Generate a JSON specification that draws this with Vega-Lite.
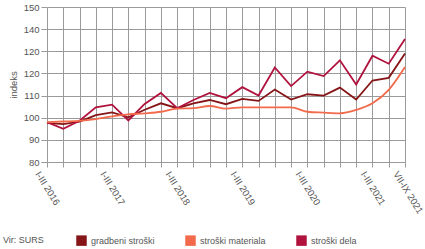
{
  "$schema": "https://vega.github.io/schema/vega-lite/v6.json",
  "width": 358,
  "height": 155,
  "autosize": {"type": "none"},
  "padding": {"left": 47, "top": 7, "right": 20, "bottom": 87},
  "background": "white",
  "config": {
    "view": {"stroke": null},
    "font": "Liberation Sans",
    "axis": {
      "gridColor": "#9a9a9a",
      "gridWidth": 1,
      "gridOpacity": 1,
      "tickColor": "#9a9a9a",
      "domain": false,
      "labelColor": "#555555",
      "labelFont": "Liberation Sans",
      "labelFontSize": 9.5,
      "titleColor": "#555555",
      "titleFont": "Liberation Sans",
      "titleFontWeight": "normal",
      "titleFontSize": 9.5
    },
    "legend": {
      "labelColor": "#555555",
      "labelFont": "Liberation Sans",
      "labelFontSize": 9,
      "titleColor": "#555555",
      "titleFont": "Liberation Sans",
      "titleFontWeight": "normal",
      "titleFontSize": 9
    }
  },
  "data": {
    "values": [
      {"q": "I-III 2016", "s": "gradbeni stroški", "v": 97.7},
      {"q": "IV-VI 2016", "s": "gradbeni stroški", "v": 97.1},
      {"q": "VII-IX 2016", "s": "gradbeni stroški", "v": 98.2},
      {"q": "X-XII 2016", "s": "gradbeni stroški", "v": 101.2},
      {"q": "I-III 2017", "s": "gradbeni stroški", "v": 102.4},
      {"q": "IV-VI 2017", "s": "gradbeni stroški", "v": 100.2},
      {"q": "VII-IX 2017", "s": "gradbeni stroški", "v": 103.6},
      {"q": "X-XII 2017", "s": "gradbeni stroški", "v": 106.5},
      {"q": "I-III 2018", "s": "gradbeni stroški", "v": 104.3},
      {"q": "IV-VI 2018", "s": "gradbeni stroški", "v": 106.5},
      {"q": "VII-IX 2018", "s": "gradbeni stroški", "v": 108},
      {"q": "X-XII 2018", "s": "gradbeni stroški", "v": 106.1},
      {"q": "I-III 2019", "s": "gradbeni stroški", "v": 108.5},
      {"q": "IV-VI 2019", "s": "gradbeni stroški", "v": 107.6},
      {"q": "VII-IX 2019", "s": "gradbeni stroški", "v": 112.7},
      {"q": "X-XII 2019", "s": "gradbeni stroški", "v": 108.2},
      {"q": "I-III 2020", "s": "gradbeni stroški", "v": 110.6},
      {"q": "IV-VI 2020", "s": "gradbeni stroški", "v": 110},
      {"q": "VII-IX 2020", "s": "gradbeni stroški", "v": 113.6},
      {"q": "X-XII 2020", "s": "gradbeni stroški", "v": 108.2},
      {"q": "I-III 2021", "s": "gradbeni stroški", "v": 116.8},
      {"q": "IV-VI 2021", "s": "gradbeni stroški", "v": 118},
      {"q": "VII-IX 2021", "s": "gradbeni stroški", "v": 129},
      {"q": "I-III 2016", "s": "stroški materiala", "v": 98},
      {"q": "IV-VI 2016", "s": "stroški materiala", "v": 98.3},
      {"q": "VII-IX 2016", "s": "stroški materiala", "v": 98.6},
      {"q": "X-XII 2016", "s": "stroški materiala", "v": 99.4},
      {"q": "I-III 2017", "s": "stroški materiala", "v": 100.6},
      {"q": "IV-VI 2017", "s": "stroški materiala", "v": 101.5},
      {"q": "VII-IX 2017", "s": "stroški materiala", "v": 102},
      {"q": "X-XII 2017", "s": "stroški materiala", "v": 102.7},
      {"q": "I-III 2018", "s": "stroški materiala", "v": 104.1},
      {"q": "IV-VI 2018", "s": "stroški materiala", "v": 104.3},
      {"q": "VII-IX 2018", "s": "stroški materiala", "v": 105.3},
      {"q": "X-XII 2018", "s": "stroški materiala", "v": 104.1},
      {"q": "I-III 2019", "s": "stroški materiala", "v": 104.7},
      {"q": "IV-VI 2019", "s": "stroški materiala", "v": 104.7},
      {"q": "VII-IX 2019", "s": "stroški materiala", "v": 104.7},
      {"q": "X-XII 2019", "s": "stroški materiala", "v": 104.7},
      {"q": "I-III 2020", "s": "stroški materiala", "v": 102.7},
      {"q": "IV-VI 2020", "s": "stroški materiala", "v": 102.3},
      {"q": "VII-IX 2020", "s": "stroški materiala", "v": 102},
      {"q": "X-XII 2020", "s": "stroški materiala", "v": 103.5},
      {"q": "I-III 2021", "s": "stroški materiala", "v": 106.5},
      {"q": "IV-VI 2021", "s": "stroški materiala", "v": 112.6},
      {"q": "VII-IX 2021", "s": "stroški materiala", "v": 122.9},
      {"q": "I-III 2016", "s": "stroški dela", "v": 98},
      {"q": "IV-VI 2016", "s": "stroški dela", "v": 95},
      {"q": "VII-IX 2016", "s": "stroški dela", "v": 98.6},
      {"q": "X-XII 2016", "s": "stroški dela", "v": 104.7},
      {"q": "I-III 2017", "s": "stroški dela", "v": 105.9},
      {"q": "IV-VI 2017", "s": "stroški dela", "v": 98.8},
      {"q": "VII-IX 2017", "s": "stroški dela", "v": 106.2},
      {"q": "X-XII 2017", "s": "stroški dela", "v": 111.2},
      {"q": "I-III 2018", "s": "stroški dela", "v": 104.3},
      {"q": "IV-VI 2018", "s": "stroški dela", "v": 108},
      {"q": "VII-IX 2018", "s": "stroški dela", "v": 111.2},
      {"q": "X-XII 2018", "s": "stroški dela", "v": 108.8},
      {"q": "I-III 2019", "s": "stroški dela", "v": 113.8},
      {"q": "IV-VI 2019", "s": "stroški dela", "v": 110},
      {"q": "VII-IX 2019", "s": "stroški dela", "v": 122.7},
      {"q": "X-XII 2019", "s": "stroški dela", "v": 114.3},
      {"q": "I-III 2020", "s": "stroški dela", "v": 120.8},
      {"q": "IV-VI 2020", "s": "stroški dela", "v": 118.8},
      {"q": "VII-IX 2020", "s": "stroški dela", "v": 125.9},
      {"q": "X-XII 2020", "s": "stroški dela", "v": 115},
      {"q": "I-III 2021", "s": "stroški dela", "v": 128},
      {"q": "IV-VI 2021", "s": "stroški dela", "v": 124.4},
      {"q": "VII-IX 2021", "s": "stroški dela", "v": 135.5}
    ]
  },
  "encoding": {
    "x": {
      "field": "q",
      "type": "ordinal",
      "sort": null,
      "scale": {"type": "point", "padding": 0},
      "axis": {
        "title": null,
        "grid": true,
        "tickSize": 5,
        "labelAngle": 58,
        "labelPadding": 5,
        "labelOffset": -10,
        "labelOverlap": false,
        "labelExpr": "substring(datum.label, 0, 6) == 'I-III ' || datum.label == 'VII-IX 2021' ? datum.label : ''"
      }
    },
    "y": {
      "field": "v",
      "type": "quantitative",
      "scale": {"domain": [80, 150], "nice": false, "zero": false},
      "axis": {
        "title": "indeks",
        "values": [80, 90, 100, 110, 120, 130, 140, 150],
        "labelExpr": "datum.value == 130 ? '120' : datum.label",
        "tickSize": 6,
        "labelPadding": 2,
        "titlePadding": 5,
        "grid": true
      }
    },
    "color": {
      "field": "s",
      "type": "nominal",
      "scale": {
        "domain": ["gradbeni stroški", "stroški materiala", "stroški dela"],
        "range": ["#861517", "#f26a4b", "#b0123d"]
      },
      "legend": {
        "orient": "none",
        "legendX": -44,
        "legendY": 228,
        "direction": "horizontal",
        "title": "Vir: SURS",
        "titleOrient": "left",
        "titlePadding": 32,
        "symbolType": "square",
        "symbolSize": 110,
        "symbolStrokeWidth": 0,
        "labelOffset": 4,
        "columnPadding": 30,
        "encode": {
          "symbols": {
            "update": {
              "fill": {"scale": "color", "field": "value"},
              "fillOpacity": {"value": 1}
            }
          }
        }
      }
    }
  },
  "layer": [
    {
      "transform": [{"filter": "datum.s != 'stroški materiala'"}],
      "mark": {"type": "line", "strokeWidth": 1.8}
    },
    {
      "transform": [{"filter": "datum.s == 'stroški materiala'"}],
      "mark": {"type": "line", "strokeWidth": 1.8, "interpolate": "monotone"}
    }
  ]
}
